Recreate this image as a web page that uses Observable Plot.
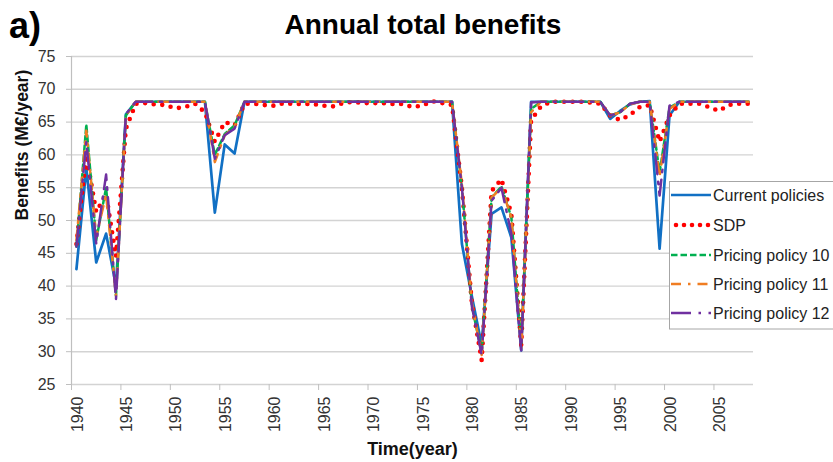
<!DOCTYPE html>
<html>
<head>
<meta charset="utf-8">
<script src="https://cdn.jsdelivr.net/npm/d3@7"></script>
<script src="https://cdn.jsdelivr.net/npm/@observablehq/plot@0.6"></script>
<style>
  body { margin: 0; background: #fff; }
  #wrap { position: relative; width: 833px; height: 462px; overflow: hidden; font-family: "Liberation Sans", Arial, sans-serif; }
  #wrap > svg.overlay { position: absolute; left: 0; top: 0; pointer-events: none; }
</style>
</head>
<body>
<div id="wrap"></div>
<script>
const years = [
  1940,1941,1942,1943,1944,1945,1946,1947,1948,1949,
  1950,1951,1952,1953,1954,1955,1956,1957,1958,1959,
  1960,1961,1962,1963,1964,1965,1966,1967,1968,1969,
  1970,1971,1972,1973,1974,1975,1976,1977,1978,1979,
  1980,1981,1982,1983,1984,1985,1986,1987,1988,1989,
  1990,1991,1992,1993,1994,1995,1996,1997,1998,1999,
  2000,2001,2002,2003,2004,2005,2006,2007,2008
];

const currentPolicies = [
  42.6, 58, 43.6, 48, 40, 66.2, 68.1, 68.1, 68.1, 68.1,
  68.1, 68.1, 68.1, 68.1, 51.2, 61.6, 60.2, 68.1, 68.1, 68.1,
  68.1, 68.1, 68.1, 68.1, 68.1, 68.1, 68.1, 68.1, 68.1, 68.1,
  68.1, 68.1, 68.1, 68.1, 68.1, 68.1, 68.1, 68.1, 68.1, 46.4,
  38.5, 31, 51, 52, 47.4, 30.2, 68.1, 68.1, 68.1, 68.1,
  68.1, 68.1, 68.1, 68.1, 65.5, 66.7, 67.7, 68.1, 68.2, 45.7,
  66, 68.1, 68.1, 68.1, 68.1, 68.1, 68.1, 68.1, 68.1
];

const sdp = [
  46.4, 60, 51.3, 54, 44.5, 64, 67.8, 67.9, 67.7, 67.6,
  67.1, 67.3, 67.8, 66.5, 62, 65, 64.5, 67.8, 67.8, 67.6,
  67.5, 67.9, 67.75, 67.75, 67.75, 67.5, 67.4, 67.9, 68.1, 67.9,
  67.9, 67.9, 67.75, 67.75, 67.3, 67.5, 68.2, 67.9, 67.6, 55,
  37.5, 28.7, 54.5, 56.3, 51, 31, 65.3, 67.4, 68.1, 68.1,
  68.1, 68.1, 68, 67.8, 66, 65.3, 66.1, 67.3, 67.6, 62,
  66, 67.8, 67.8, 67.8, 67.3, 66.7, 67.6, 67.8, 67.8
];

const pricing10 = [
  46, 64.6, 47, 55, 38.5, 66, 68.1, 68.1, 68.1, 68.1,
  68.1, 68.1, 68.1, 68.1, 60, 63.2, 64.5, 68.1, 68.1, 68.1,
  68.1, 68.1, 68.1, 68.1, 68.1, 68.1, 68.1, 68.1, 68.1, 68.1,
  68.1, 68.1, 68.1, 68.1, 68.1, 68.1, 68.1, 68.1, 68.1, 55,
  37, 29.8, 53.5, 55.2, 50.5, 31, 67, 68.1, 68.1, 68.1,
  68.1, 68.1, 68.1, 68.1, 66, 66.5, 67.8, 68.1, 68.1, 57.3,
  67.2, 68.1, 68.1, 68.1, 68.1, 68.1, 68.1, 68.1, 68.1
];

const pricing11 = [
  47, 63.7, 47.5, 54, 38.5, 66, 68.1, 68.1, 68.1, 68.1,
  68.1, 68.1, 68.1, 68.1, 58.9, 63, 64.3, 68.1, 68.1, 68.1,
  68.1, 68.1, 68.1, 68.1, 68.1, 68.1, 68.1, 68.1, 68.1, 68.1,
  68.1, 68.1, 68.1, 68.1, 68.1, 68.1, 68.1, 68.1, 68.1, 55.5,
  37.5, 29.5, 53.5, 55, 50.5, 30.5, 66.5, 68.1, 68.1, 68.1,
  68.1, 68.1, 68.1, 68.1, 66, 66.5, 67.7, 68.1, 68.1, 56.7,
  67, 68.1, 68.1, 68.1, 68.1, 68.1, 68.1, 68.1, 68.1
];

const pricing12 = [
  46, 62, 46.5, 57, 38, 66.2, 68.1, 68.1, 68.1, 68.1,
  68.1, 68.1, 68.1, 68.1, 59.4, 63, 64, 68.1, 68.1, 68.1,
  68.1, 68.1, 68.1, 68.1, 68.1, 68.1, 68.1, 68.1, 68.1, 68.1,
  68.1, 68.1, 68.1, 68.1, 68.1, 68.1, 68.1, 68.1, 68.1, 55,
  37, 29.5, 53, 55, 48, 30.2, 68, 68.1, 68.1, 68.1,
  68.1, 68.1, 68.1, 68.1, 66, 66.5, 67.8, 68.1, 68.1, 53.8,
  67.5, 68.1, 68.1, 68.1, 68.1, 68.1, 68.1, 68.1, 68.1
];

const seriesNames = ["Current policies", "SDP", "Pricing policy 10", "Pricing policy 11", "Pricing policy 12"];
const seriesValues = [currentPolicies, sdp, pricing10, pricing11, pricing12];
const xTicks = [1940,1945,1950,1955,1960,1965,1970,1975,1980,1985,1990,1995,2000,2005];
const yTicks = [25,30,35,40,45,50,55,60,65,70,75];

const styles = [
  {stroke: "#1170C4", strokeWidth: 2.7},
  {stroke: "#FF0000", strokeWidth: 4.6, strokeDasharray: "0 8.6", strokeLinecap: "round"},
  {stroke: "#00B050", strokeWidth: 2.5, strokeDasharray: "6.5 3"},
  {stroke: "#F07D22", strokeWidth: 2.5, strokeDasharray: "10 7 2.5 7"},
  {stroke: "#7030A0", strokeWidth: 2.5, strokeDasharray: "20 7.5 2.5 7.5"}
];

const tables = seriesValues.map((vals, s) => years.map((yr, i) => ({year: yr, value: vals[i], series: seriesNames[s]})));

const W = 833, H = 462;
const chart = Plot.plot({
  width: W, height: H,
  marginLeft: 71, marginRight: 80, marginTop: 56, marginBottom: 78,
  style: {fontFamily: "'Liberation Sans', Arial, sans-serif", fontSize: "16px", background: "white", color: "#333"},
  x: {domain: [1940, 2009]},
  y: {domain: [25, 75]},
  marks: [
    Plot.gridY(yTicks, {stroke: "#d3d3d3", strokeOpacity: 1, strokeWidth: 1.4}),
    Plot.ruleX([1940], {stroke: "#bfbfbf", strokeWidth: 1.2}),
    Plot.axisY(yTicks, {tickSize: 5, tickPadding: 11, stroke: "#bfbfbf", fill: "#333", fontSize: 16, label: null}),
    Plot.axisX(xTicks, {tickSize: 6, tickFormat: () => "", stroke: "#bfbfbf", label: null}),
    Plot.axisX(xTicks, {tickSize: 0, tickPadding: 12, tickRotate: -90, tickFormat: d => String(d), fill: "#333", fontSize: 16, dx: 6, label: null}),
    ...tables.map((t, s) => Plot.line(t, {x: d => d.year + 0.5, y: "value", ...styles[s], strokeLinejoin: "round"})),
    Plot.text(["Time(year)"], {frameAnchor: "bottom", dy: 70, lineAnchor: "bottom", fontWeight: "bold", fontSize: 18, fill: "#111"}),
    Plot.text(["Benefits (M€/year)"], {frameAnchor: "left", dx: -44, rotate: -90, lineAnchor: "bottom", fontWeight: "bold", fontSize: 17.5, fill: "#111"})
  ]
});

const wrap = document.getElementById("wrap");
wrap.appendChild(chart);

// Overlay: panel tag, title, legend
const ov = d3.select(wrap).append("svg").attr("class", "overlay")
  .attr("width", W).attr("height", H)
  .style("font-family", "'Liberation Sans', Arial, sans-serif");

ov.append("text").attr("x", 9).attr("y", 38).attr("font-size", 36).attr("font-weight", "bold").attr("fill", "#000").text("a)");
ov.append("text").attr("x", 423).attr("y", 34).attr("text-anchor", "middle").attr("font-size", 28).attr("font-weight", "bold").attr("fill", "#000").text("Annual total benefits");

const lg = ov.append("g");
lg.append("rect").attr("x", 669.5).attr("y", 181.5).attr("width", 175).attr("height", 147.5)
  .attr("fill", "#fff").attr("stroke", "#a6a6a6").attr("stroke-width", 1);
const rowY = [195, 225, 255, 284, 313];
seriesNames.forEach((name, i) => {
  const st = styles[i];
  const ln = lg.append("line").attr("x1", i === 1 ? 676 : 671).attr("x2", 711).attr("y1", rowY[i]).attr("y2", rowY[i])
    .attr("stroke", st.stroke).attr("stroke-width", st.strokeWidth);
  if (st.strokeDasharray) ln.attr("stroke-dasharray", i === 1 ? "0 8" : st.strokeDasharray);
  if (st.strokeLinecap) ln.attr("stroke-linecap", st.strokeLinecap);
  lg.append("text").attr("x", 713).attr("y", rowY[i]).attr("dy", "0.35em").attr("font-size", 16).attr("fill", "#222").text(name);
});
</script>
</body>
</html>
